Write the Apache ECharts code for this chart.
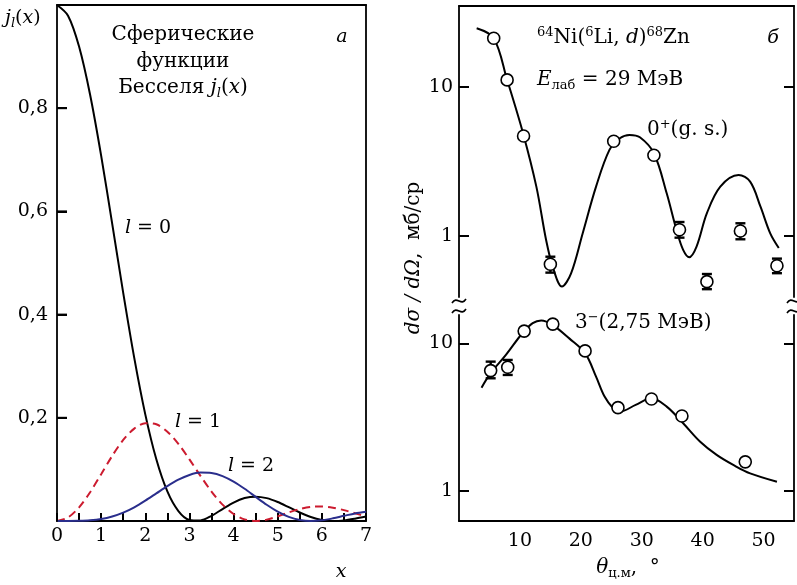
<!DOCTYPE html>
<html><head><meta charset="utf-8">
<script src="https://cdn.jsdelivr.net/npm/echarts@6/dist/echarts.min.js"></script>
<style>html,body{margin:0;padding:0;background:#fff}#c{width:797px;height:585px}</style>
</head><body><div id="c"></div>
<script>
// ---- Panel a: spherical Bessel functions ----
const besselX = [0,0.25,0.5,0.75,1,1.25,1.5,1.75,2,2.25,2.5,2.75,3,3.25,3.5,3.75,4,4.25,4.5,4.75,5,5.25,5.5,5.75,6,6.25,6.5,6.75,7];
const l0Values = [1,0.9793,0.9194,0.8260,0.7081,0.5764,0.4422,0.3162,0.2067,0.1196,0.0573,0.0193,0.0022,0.0011,0.0100,0.0232,0.0358,0.0444,0.0472,0.0443,0.0368,0.0268,0.0165,0.0078,0.0022,0.0000,0.0011,0.0045,0.0088];
const l1Values = [0,0.0069,0.0264,0.0558,0.0907,0.1261,0.1570,0.1791,0.1896,0.1874,0.1732,0.1494,0.1195,0.0874,0.0571,0.0317,0.0135,0.0031,0.0000,0.0027,0.0090,0.0166,0.0232,0.0273,0.0282,0.0258,0.0211,0.0150,0.0089];
const l2Values = [0,0.0000,0.0003,0.0013,0.0038,0.0087,0.0162,0.0266,0.0394,0.0535,0.0676,0.0801,0.0892,0.0938,0.0930,0.0870,0.0763,0.0624,0.0468,0.0315,0.0182,0.0081,0.0021,0.0000,0.0014,0.0052,0.0100,0.0147,0.0180];
const leftYTicks = [0.2,0.4,0.6,0.8];
const leftXTicks = [0,0.5,1,1.5,2,2.5,3,3.5,4,4.5,5,5.5,6,6.5,7];
const leftXLabels = [0,1,2,3,4,5,6,7];

// ---- Panel б: 64Ni(6Li,d)68Zn cross sections ----
const gsCurveX = [2.9,5.7,7.9,10.5,12.7,14.3,15.4,16.9,18.4,20.3,22.5,24.7,26.4,28.0,29.7,32.0,34.1,35.7,36.8,37.8,39.0,40.7,42.9,45.9,47.8,49.5,51.1,52.5];
const gsCurveY = [24.6,21.1,11.1,4.9,2.14,0.94,0.62,0.458,0.562,1.04,2.14,3.77,4.51,4.75,4.58,3.58,1.93,1.10,0.806,0.720,0.848,1.42,2.14,2.56,2.31,1.57,1.04,0.83];
const gsPointX = [5.7,7.9,10.6,15.0,25.4,32.0,36.2,40.7,46.2,52.2];
const gsPointY = [21.1,11.1,4.67,0.646,4.31,3.47,1.10,0.494,1.08,0.632];
const gsErrX = [15.0,36.2,40.7,46.2,52.2];
const gsErrLo = [0.568,0.974,0.440,0.950,0.563];
const gsErrHi = [0.726,1.240,0.556,1.216,0.705];

const exCurveX = [3.7,5.2,7.7,10.4,12.1,13.5,15.4,18.1,20.7,22.5,23.9,25.3,26.4,29.0,31.6,34.1,36.8,39.6,42.3,45.1,47.8,52.2];
const exCurveY = [5.0,6.27,8.34,11.7,13.7,14.3,13.3,10.8,8.57,5.94,4.35,3.63,3.44,3.82,4.24,3.72,2.87,2.15,1.75,1.49,1.31,1.15];
const exPointX = [5.2,8.0,10.7,15.4,20.7,26.1,31.6,36.6,47.0];
const exPointY = [6.53,6.88,12.1,13.5,8.88,3.66,4.19,3.21,1.57];
const exErrX = [5.2,8.0];
const exErrLo = [5.79,6.10];
const exErrHi = [7.51,7.71];

const logTicks = [1,10];
const thetaTicks = [10,20,30,40,50];

const zip = (a,b) => a.map((v,i)=>[v,b[i]]);
const zip3 = (a,b,c) => a.map((v,i)=>[v,b[i],c[i]]);

const F = 'DejaVu Serif';
const FS = 19;
const rich = {
  i:{fontFamily:F,fontStyle:'italic',fontSize:FS,lineHeight:24,color:'#000'},
  n:{fontFamily:F,fontSize:FS,lineHeight:24,color:'#000'},
  b:{fontFamily:F,fontSize:20,lineHeight:24,color:'#000'},
  bi:{fontFamily:F,fontStyle:'italic',fontSize:20,lineHeight:24,color:'#000'},
  sub:{fontFamily:F,fontSize:13,lineHeight:13,verticalAlign:'bottom',color:'#000'},
  subi:{fontFamily:F,fontStyle:'italic',fontSize:13,lineHeight:13,verticalAlign:'bottom',color:'#000'},
  sup:{fontFamily:F,fontSize:13,lineHeight:13,verticalAlign:'top',color:'#000'}
};
function txt(text,x,y,align,extra){
  return Object.assign({type:'text',x:x,y:y,silent:true,style:{text:text,rich:rich,
    fontFamily:F,fontSize:FS,lineHeight:24,fill:'#000',
    align:align||'left',textAlign:align||'left',verticalAlign:'middle',textVerticalAlign:'middle'}},extra||{});
}
function squiggle(cx,cy){
  return {type:'bezierCurve',silent:true,shape:{x1:cx-7,y1:cy+2,cpx1:cx-2,cpy1:cy-6,cpx2:cx+2,cpy2:cy+6,x2:cx+7,y2:cy-2},
    style:{stroke:'#000',lineWidth:1.6,fill:null}};
}
function errItem(params, api){
  const x = api.value(0);
  const p1 = api.coord([x, api.value(1)]);
  const p2 = api.coord([x, api.value(2)]);
  const w = 5, st = {stroke:'#000', lineWidth:2.4};
  return {type:'group',children:[
    {type:'line',shape:{x1:p1[0],y1:p1[1],x2:p2[0],y2:p2[1]},style:st},
    {type:'line',shape:{x1:p1[0]-w,y1:p1[1],x2:p1[0]+w,y2:p1[1]},style:st},
    {type:'line',shape:{x1:p2[0]-w,y1:p2[1],x2:p2[0]+w,y2:p2[1]},style:st}]};
}
// inward tick marks of panel a's left axis, placed through the axis scale
function yTickItem(params, api){
  const p = api.coord([api.value(0), api.value(1)]);
  return {type:'line',shape:{x1:p[0],y1:p[1],x2:p[0]+10,y2:p[1]},style:{stroke:'#000',lineWidth:2}};
}
const lineAx = {show:true,onZero:false,lineStyle:{color:'#000',width:1.8}};
const tickSt = {color:'#000',width:2};
const logFmt = v => logTicks.some(t=>Math.abs(v-t)<1e-6) ? String(Math.round(v)) : '';
function logY(gi,pos,min,max,labels){
  return {type:'log',logBase:10,gridIndex:gi,position:pos,min:min,max:max,
    axisLine:lineAx,splitLine:{show:false},minorTick:{show:false},
    axisTick:{show:true,inside:true,length:10,customValues:logTicks,lineStyle:tickSt},
    axisLabel:{show:labels,customValues:logTicks,formatter:logFmt,margin:6,fontFamily:F,fontSize:FS,color:'#000'}};
}

const graphicEls = [
  txt('{i|j}{subi|l}{n|(}{i|x}{n|)}',5,18,'left'),
  txt('{b|Сферические}',183,35,'center'),
  txt('{b|функции}',183,62,'center'),
  txt('{b|Бесселя }{bi|j}{subi|l}{b|(}{bi|x}{b|)}',183,88,'center'),
  txt('{i|a}',342,37,'center'),
  txt('{i|l}{n| = 0}',125,228,'left'),
  txt('{i|l}{n| = 1}',175,422,'left'),
  txt('{i|l}{n| = 2}',228,466,'left'),
  txt('{i|x}',341,572,'center'),
  txt('{sup|64}{b|Ni(}{sup|6}{b|Li, }{bi|d}{b|)}{sup|68}{b|Zn}',537,38,'left'),
  txt('{bi|E}{sub|лаб}{b| = 29 МэВ}',537,80,'left'),
  txt('{i|б}',773,38,'center'),
  txt('{b|0}{sup|+}{b|(g. s.)}',647,130,'left'),
  txt('{b|3}{sup|−}{b|(2,75 МэВ)}',575,323,'left'),
  txt('{bi|dσ / dΩ}{b|,  мб/ср}',414,258,'center',{rotation:Math.PI/2}),
  txt('{bi|θ}{sub|ц.м}{b|,  °}',628,568,'center'),
  squiggle(459,301), squiggle(459,311),
  squiggle(794,301), squiggle(794,311)
];

const chart = echarts.init(document.getElementById('c'),null,{renderer:'canvas'});
chart.setOption({
  animation:false,
  backgroundColor:'#fff',
  grid:[
    {left:57,right:431,top:5,bottom:64},
    {left:459,right:3,top:6,height:291},
    {left:459,right:3,top:315,bottom:64}
  ],
  xAxis:[
    {type:'value',gridIndex:0,position:'bottom',min:0,max:7,interval:0.5,axisLine:lineAx,splitLine:{show:false},
     axisTick:{show:true,inside:true,length:8,customValues:leftXTicks,lineStyle:tickSt},
     axisLabel:{customValues:leftXLabels,formatter:v=>String(v),margin:6,fontFamily:F,fontSize:FS,color:'#000'}},
    {type:'value',gridIndex:1,position:'top',min:0,max:55,axisLine:lineAx,splitLine:{show:false},axisTick:{show:false},axisLabel:{show:false}},
    {type:'value',gridIndex:2,position:'bottom',min:0,max:55,interval:10,axisLine:lineAx,splitLine:{show:false},axisTick:{show:false},
     axisLabel:{customValues:thetaTicks,formatter:v=>thetaTicks.includes(v)?String(v):'',margin:11,fontFamily:F,fontSize:FS,color:'#000'}},
    {type:'value',gridIndex:0,position:'top',min:0,max:7,axisLine:lineAx,splitLine:{show:false},axisTick:{show:false},axisLabel:{show:false}}
  ],
  yAxis:[
    {type:'value',gridIndex:0,position:'left',min:0,max:1,interval:0.2,zlevel:1,axisLine:lineAx,splitLine:{show:false},
     axisTick:{show:true,inside:true,length:10,customValues:leftYTicks,lineStyle:tickSt},
     axisLabel:{customValues:leftYTicks,formatter:v=>v.toFixed(1).replace('.',','),margin:9,fontFamily:F,fontSize:FS,color:'#000'}},
    logY(1,'left',0.39,34.7,true),
    logY(1,'right',0.39,34.7,false),
    logY(2,'left',0.623,15.56,true),
    logY(2,'right',0.623,15.56,false),
    {type:'value',gridIndex:0,position:'right',min:0,max:1,axisLine:lineAx,splitLine:{show:false},axisTick:{show:false},axisLabel:{show:false}}
  ],
  series:[
    {type:'custom',xAxisIndex:0,yAxisIndex:0,data:leftYTicks.map(v=>[0,v]),renderItem:yTickItem,encode:{x:0,y:1},silent:true,clip:false,zlevel:1,z:10},
    {type:'line',xAxisIndex:0,yAxisIndex:0,data:zip(besselX,l0Values),smooth:0.3,showSymbol:false,lineStyle:{color:'#000',width:2}},
    {type:'line',xAxisIndex:0,yAxisIndex:0,data:zip(besselX,l1Values),smooth:0.3,showSymbol:false,lineStyle:{color:'#cc1b2f',width:2,type:[8,5]}},
    {type:'line',xAxisIndex:0,yAxisIndex:0,data:zip(besselX,l2Values),smooth:0.3,showSymbol:false,lineStyle:{color:'#2a2e8c',width:2}},
    {type:'line',xAxisIndex:1,yAxisIndex:1,data:zip(gsCurveX,gsCurveY),smooth:0.35,showSymbol:false,lineStyle:{color:'#000',width:2},z:2},
    {type:'custom',xAxisIndex:1,yAxisIndex:1,data:zip3(gsErrX,gsErrLo,gsErrHi),renderItem:errItem,encode:{x:0,y:[1,2]},z:3},
    {type:'scatter',xAxisIndex:1,yAxisIndex:1,data:zip(gsPointX,gsPointY),symbol:'circle',symbolSize:12,
     itemStyle:{color:'#fff',borderColor:'#000',borderWidth:1.6,opacity:1},z:4},
    {type:'line',xAxisIndex:2,yAxisIndex:3,data:zip(exCurveX,exCurveY),smooth:0.35,showSymbol:false,lineStyle:{color:'#000',width:2},z:2},
    {type:'custom',xAxisIndex:2,yAxisIndex:3,data:zip3(exErrX,exErrLo,exErrHi),renderItem:errItem,encode:{x:0,y:[1,2]},z:3},
    {type:'scatter',xAxisIndex:2,yAxisIndex:3,data:zip(exPointX,exPointY),symbol:'circle',symbolSize:12,
     itemStyle:{color:'#fff',borderColor:'#000',borderWidth:1.6,opacity:1},z:4}
  ],
  graphic:graphicEls
});
</script></body></html>
